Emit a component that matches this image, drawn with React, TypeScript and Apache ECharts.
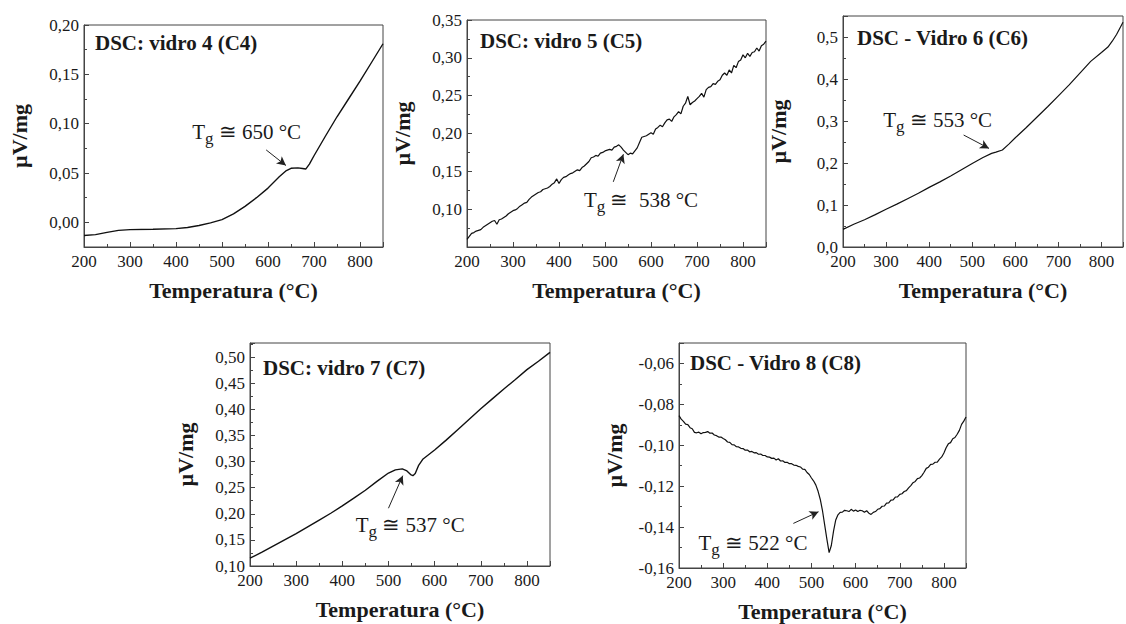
import React, { useEffect, useRef } from "react";
import * as echarts from "echarts";

// ---------- DATA ----------
const X_MIN = 200;
const X_MAX = 850;
const X_STEP = 100;

// C4 (smooth)
const C4_T = [200, 225, 250, 275, 300, 350, 400, 425, 450, 475, 500, 525, 550, 575, 600, 625, 640, 650, 665, 675, 682, 690, 700, 725, 750, 775, 800, 825, 850];
const C4_V = [-0.0134, -0.0125, -0.0102, -0.0082, -0.0074, -0.007, -0.0064, -0.0052, -0.0032, -0.0005, 0.0027, 0.0085, 0.0162, 0.025, 0.0347, 0.0465, 0.0525, 0.0548, 0.0552, 0.0545, 0.054, 0.059, 0.0675, 0.0875, 0.107, 0.125, 0.143, 0.162, 0.181];

// C5 (noisy, every 5 °C from 200 to 850)
const C5_V = [
  0.060, 0.064, 0.068, 0.069, 0.071, 0.072, 0.073, 0.076, 0.078, 0.080,
  0.082, 0.084, 0.085, 0.080, 0.086, 0.087, 0.089, 0.091, 0.094, 0.096,
  0.098, 0.099, 0.101, 0.104, 0.106, 0.108, 0.109, 0.113, 0.116, 0.118,
  0.120, 0.122, 0.123, 0.126, 0.127, 0.128, 0.130, 0.133, 0.135, 0.140,
  0.134, 0.139, 0.142, 0.143, 0.145, 0.147, 0.148, 0.150, 0.152, 0.151,
  0.155, 0.157, 0.160, 0.163, 0.168, 0.169, 0.171, 0.170, 0.174, 0.175,
  0.177, 0.178, 0.179, 0.178, 0.182, 0.183, 0.185, 0.182, 0.178, 0.175,
  0.172, 0.174, 0.173, 0.177, 0.181, 0.188, 0.195, 0.196, 0.197, 0.199,
  0.201, 0.199, 0.206, 0.208, 0.211, 0.209, 0.214, 0.218, 0.219, 0.216,
  0.222, 0.225, 0.229, 0.226, 0.236, 0.240, 0.249, 0.238, 0.241, 0.243,
  0.246, 0.249, 0.253, 0.248, 0.258, 0.261, 0.262, 0.266, 0.265, 0.269,
  0.271, 0.277, 0.280, 0.277, 0.284, 0.280, 0.290, 0.287, 0.295, 0.297,
  0.304, 0.300, 0.306, 0.302, 0.307, 0.308, 0.313, 0.309, 0.316, 0.318,
  0.322,
];

// C6 (smooth)
const C6_T = [200, 225, 250, 275, 300, 325, 350, 375, 400, 425, 450, 475, 500, 525, 545, 555, 570, 585, 600, 625, 650, 675, 700, 725, 750, 775, 800, 815, 825, 835, 850];
const C6_V = [0.042, 0.054, 0.065, 0.077, 0.09, 0.102, 0.115, 0.128, 0.142, 0.155, 0.169, 0.184, 0.199, 0.213, 0.223, 0.226, 0.231, 0.245, 0.26, 0.284, 0.309, 0.334, 0.36, 0.386, 0.414, 0.442, 0.463, 0.476, 0.49, 0.506, 0.535];

// C7 (smooth)
const C7_T = [200, 225, 250, 275, 300, 325, 350, 375, 400, 425, 450, 475, 500, 515, 530, 540, 548, 553, 558, 565, 575, 600, 625, 650, 675, 700, 725, 750, 775, 800, 825, 850];
const C7_V = [0.115, 0.126, 0.138, 0.15, 0.162, 0.175, 0.188, 0.201, 0.215, 0.23, 0.245, 0.262, 0.278, 0.284, 0.286, 0.282, 0.275, 0.273, 0.277, 0.292, 0.305, 0.322, 0.341, 0.361, 0.381, 0.401, 0.42, 0.439, 0.457, 0.476, 0.492, 0.509];

// C8 (noisy, every 5 °C from 200 to 850)
const C8_V = [
  -0.0855, -0.0872, -0.0883, -0.0897, -0.0899, -0.0914, -0.0919, -0.0937, -0.0939, -0.0936,
  -0.0944, -0.0938, -0.0937, -0.0933, -0.0941, -0.0940, -0.0950, -0.0953, -0.0960, -0.0960,
  -0.0967, -0.0973, -0.0984, -0.0986, -0.0997, -0.0998, -0.1007, -0.1008, -0.1015, -0.1016,
  -0.1024, -0.1023, -0.1032, -0.1030, -0.1037, -0.1036, -0.1044, -0.1043, -0.1050, -0.1050,
  -0.1057, -0.1058, -0.1064, -0.1063, -0.1072, -0.1066, -0.1077, -0.1076, -0.1084, -0.1083,
  -0.1090, -0.1090, -0.1097, -0.1098, -0.1103, -0.1106, -0.1117, -0.1118, -0.1133, -0.1143,
  -0.1160, -0.1175, -0.1195, -0.1225, -0.1265, -0.1320, -0.1390, -0.1460, -0.1525, -0.1490,
  -0.1420, -0.1365, -0.1340, -0.1328, -0.1327, -0.1318, -0.1320, -0.1324, -0.1313, -0.1322,
  -0.1316, -0.1324, -0.1318, -0.1320, -0.1327, -0.1320, -0.1332, -0.1338, -0.1328, -0.1324,
  -0.1313, -0.1310, -0.1298, -0.1297, -0.1283, -0.1282, -0.1268, -0.1267, -0.1253, -0.1252,
  -0.1240, -0.1237, -0.1226, -0.1222, -0.1208, -0.1197, -0.1183, -0.1177, -0.1163, -0.1160,
  -0.1148, -0.1132, -0.1113, -0.1107, -0.1093, -0.1092, -0.1083, -0.1082, -0.1068, -0.1057,
  -0.1038, -0.1012, -0.0993, -0.0987, -0.0968, -0.0962, -0.0946, -0.0927, -0.0898, -0.0882,
  -0.0862,
];

const STEP5_T = C5_V.map((_, i) => 200 + 5 * i);

// Tg annotations
const TG_LABELS = ["650", "538", "553", "537", "522"];
const TITLES = ["DSC: vidro 4 (C4)", "DSC: vidro 5 (C5)", "DSC - Vidro 6 (C6)", "DSC: vidro 7 (C7)", "DSC - Vidro 8 (C8)"];

// ---------- LAYOUT ----------
const FONT = "Liberation Serif, Times New Roman, serif";
const INK = "#1a1a1a";

const zip = (xs: number[], ys: number[]) => xs.map((x, i) => [x, ys[i]]);

const PANELS = [
  {
    data: zip(C4_T, C4_V), grid: { left: 84, top: 25, width: 299, height: 222 },
    y: { min: -0.025, max: 0.2, step: 0.05, dec: 2, lo: 0, hi: 0.2, setInterval: false },
    text: [434, 0.0915], sep: " ≅ ", arrow: [[596, 0.0734], [639, 0.0576]], titlePos: [95, 32], lw: 1.4,
  },
  {
    data: zip(STEP5_T, C5_V), grid: { left: 467, top: 20, width: 299, height: 227 },
    y: { min: 0.05, max: 0.35, step: 0.05, dec: 2, lo: 0.1, hi: 0.35, setInterval: true },
    text: [453, 0.112], sep: " ≅  ", arrow: [[518, 0.1361], [540, 0.1726]], titlePos: [480, 30], lw: 1.2,
  },
  {
    data: zip(C6_T, C6_V), grid: { left: 843, top: 16, width: 290, height: 231 },
    y: { min: 0, max: 0.55, step: 0.1, dec: 1, lo: 0, hi: 0.5, setInterval: true },
    text: [292, 0.302], sep: " ≅ ", arrow: [[480, 0.2666], [539, 0.2348]], titlePos: [857, 27], lw: 1.2,
  },
  {
    data: zip(C7_T, C7_V), grid: { left: 250, top: 343, width: 300, height: 223 },
    y: { min: 0.1, max: 0.527, step: 0.05, dec: 2, lo: 0.1, hi: 0.5, setInterval: true },
    text: [428, 0.1786], sep: " ≅ ", arrow: [[500, 0.2106], [531, 0.273]], titlePos: [263, 357], lw: 1.4,
  },
  {
    data: zip(STEP5_T, C8_V), grid: { left: 679, top: 343, width: 287, height: 225 },
    y: { min: -0.16, max: -0.05, step: 0.02, dec: 2, lo: -0.16, hi: -0.06, setInterval: true },
    text: [243, -0.148], sep: " ≅ ", arrow: [[459, -0.1382], [516, -0.1325]], titlePos: [690, 352], lw: 1.2,
  },
];

function buildOption() {
  const grid = PANELS.map((p) => ({
    ...p.grid,
    containLabel: false,
    show: true,
    borderColor: "#444",
    borderWidth: 1,
    backgroundColor: "transparent",
  }));

  const xAxis = PANELS.map((p, i) => ({
    type: "value",
    gridIndex: i,
    min: X_MIN,
    max: X_MAX,
    interval: X_STEP,
    name: "Temperatura (°C)",
    nameLocation: "middle",
    nameGap: 32,
    nameTextStyle: { fontFamily: FONT, fontSize: 22, fontWeight: "bold", color: INK },
    axisLine: { show: true, onZero: false, lineStyle: { color: "#444", width: 1 } },
    axisTick: { show: true, inside: true, length: 5, lineStyle: { color: "#444" } },
    minorTick: { show: true, splitNumber: 2, length: 3, lineStyle: { color: "#444" } },
    splitLine: { show: false },
    axisLabel: {
      fontFamily: FONT,
      fontSize: 17,
      fontWeight: "normal",
      color: INK,
      margin: 7,
      lineHeight: 14,
      formatter: (v: number) => (Math.abs(v % X_STEP) < 1e-6 ? String(v) : ""),
    },
  }));

  const yAxis = PANELS.map((p, i) => ({
    type: "value",
    gridIndex: i,
    min: p.y.min,
    max: p.y.max,
    ...(p.y.setInterval ? { interval: p.y.step } : { splitNumber: 5 }),
    name: "µV/mg",
    nameLocation: "middle",
    nameGap: 54,
    nameTextStyle: { fontFamily: FONT, fontSize: 22, fontWeight: "bold", color: INK },
    axisLine: { show: true, onZero: false, lineStyle: { color: "#444", width: 1 } },
    axisTick: { show: true, inside: true, length: 5, lineStyle: { color: "#444" } },
    minorTick: { show: true, splitNumber: 2, length: 3, lineStyle: { color: "#444" } },
    splitLine: { show: false },
    axisLabel: {
      fontFamily: FONT,
      fontSize: 17,
      fontWeight: "normal",
      color: INK,
      margin: 5,
      lineHeight: 13,
      formatter: (v: number) => {
        const k = v / p.y.step;
        if (Math.abs(k - Math.round(k)) > 1e-6) return "";
        if (v < p.y.lo - 1e-9 || v > p.y.hi + 1e-9) return "";
        return v.toFixed(p.y.dec).replace(".", ",").replace(/^-0,0+$/, (s) => s.slice(1));
      },
    },
  }));

  const series = PANELS.map((p, i) => ({
    type: "line",
    xAxisIndex: i,
    yAxisIndex: i,
    data: p.data,
    showSymbol: false,
    symbol: "none",
    smooth: false,
    clip: true,
    lineStyle: { color: "#111", width: p.lw },
    markLine: {
      silent: true,
      symbol: ["none", "arrow"],
      symbolSize: [7, 9],
      lineStyle: { color: "#222", width: 1, type: "solid" },
      label: { show: false },
      emphasis: { disabled: true },
      data: [[{ coord: p.arrow[0] }, { coord: p.arrow[1] }]],
    },
    markPoint: {
      silent: true,
      symbol: "circle",
      symbolSize: 1,
      itemStyle: { color: "rgba(0,0,0,0)" },
      data: [{ coord: p.text }],
      label: {
        show: true,
        position: "right",
        distance: 0,
        align: "left",
        verticalAlign: "middle",
        formatter: `{t|T}{s|g}{t|${p.sep}${TG_LABELS[i]} °C}`,
        rich: {
          t: { fontFamily: FONT, fontSize: 21, color: INK, lineHeight: 30 },
          s: { fontFamily: FONT, fontSize: 17, color: INK, lineHeight: 12, verticalAlign: "bottom" },
        },
      },
    },
  }));

  const title = PANELS.map((p, i) => ({
    text: TITLES[i],
    left: p.titlePos[0],
    top: p.titlePos[1],
    padding: 0,
    textStyle: { fontFamily: FONT, fontSize: 21, fontWeight: "bold", color: INK },
  }));

  return {
    animation: false,
    backgroundColor: "#ffffff",
    title,
    grid,
    xAxis,
    yAxis,
    series,
  };
}

export default function App() {
  const ref = useRef<HTMLDivElement>(null);
  useEffect(() => {
    if (!ref.current) return;
    const chart = echarts.init(ref.current, undefined, { renderer: "svg" });
    chart.setOption(buildOption() as any);
    return () => chart.dispose();
  }, []);
  return (
    <div
      ref={ref}
      style={{ position: "fixed", left: 0, top: 0, width: 1126, height: 624, background: "#fff" }}
    />
  );
}
